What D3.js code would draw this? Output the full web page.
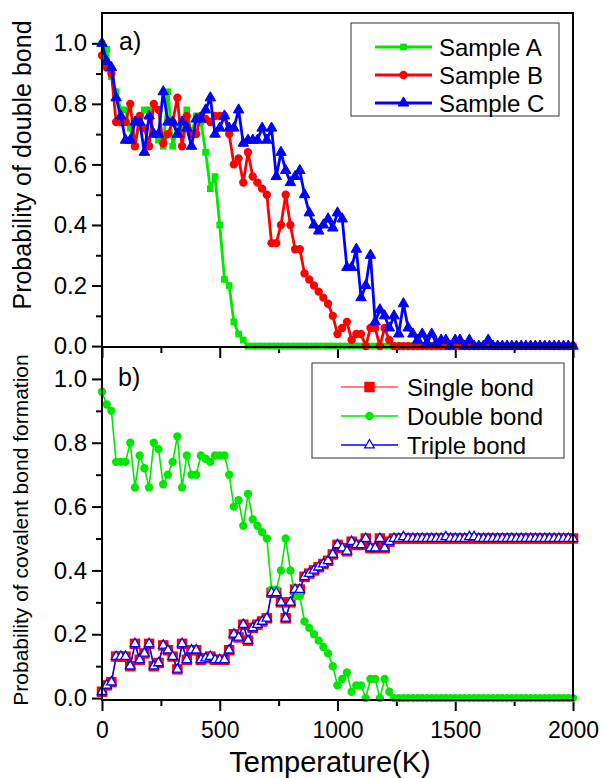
<!DOCTYPE html>
<html><head><meta charset="utf-8">
<script src="https://cdn.jsdelivr.net/npm/d3@7"></script>
<style>body{margin:0;background:#fff} text{font-family:Arial,"Liberation Sans",sans-serif;fill:#000}</style>
</head><body><svg id="c" width="603" height="778"></svg>
<script>
const temps = [0,20,40,60,80,100,120,140,160,180,200,220,240,260,280,300,320,340,360,380,
 400,420,440,460,480,500,520,540,560,580,600,620,640,660,680,700,720,740,760,780,
 800,820,840,860,880,900,920,940,960,980,1000,1020,1040,1060,1080,1100,1120,1140,1160,1180,
 1200,1220,1240,1260,1280,1300,1320,1340,1360,1380,1400,1420,1440,1460,1480,1500,1520,1540,1560,1580,
 1600,1620,1640,1660,1680,1700,1720,1740,1760,1780,1800,1820,1840,1860,1880,1900,1920,1940,1960,1980,2000];

// Panel a
const sampleA = [1.00,0.98,0.89,0.84,0.78,0.78,0.72,0.66,0.74,0.78,
 0.78,0.70,0.68,0.66,0.84,0.66,0.72,0.70,0.78,0.70,
 0.76,0.74,0.64,0.52,0.56,0.40,0.22,0.20,0.08,0.04,
 0.02,0,0,0,0,0,0,0,0,0,
 0,0,0,0,0,0,0,0,0,0,
 0,0,0,0,0,0,0,0,0,0,
 0,0,0,0,0,0,0,0,0,0,
 0,0,0,0,0,0,0,0,0,0,
 0,0,0,0,0,0,0,0,0,0,
 0,0,0,0,0,0,0,0,0,0,0];
const sampleB = [0.96,0.92,0.90,0.74,0.74,0.74,0.80,0.66,0.76,0.72,
 0.66,0.80,0.78,0.67,0.70,0.74,0.82,0.66,0.76,0.70,
 0.70,0.76,0.75,0.74,0.76,0.76,0.76,0.70,0.60,0.62,
 0.54,0.64,0.56,0.54,0.52,0.50,0.34,0.34,0.40,0.50,
 0.40,0.32,0.32,0.24,0.22,0.20,0.18,0.16,0.14,0.10,
 0.04,0.06,0.08,0.02,0.04,0.04,0.00,0.06,0.06,0.00,
 0.06,0.02,0,0,0,0,0,0,0,0,
 0,0,0,0,0,0,0,0,0,0,
 0,0,0,0,0,0,0,0,0,0,
 0,0,0,0,0,0,0,0,0,0,0];
const sampleC = [1.00,0.94,0.92,0.82,0.76,0.68,0.68,0.74,0.74,0.64,
 0.76,0.70,0.70,0.84,0.74,0.74,0.70,0.74,0.72,0.66,
 0.75,0.75,0.78,0.82,0.70,0.72,0.76,0.72,0.72,0.78,
 0.67,0.68,0.68,0.68,0.72,0.68,0.72,0.56,0.64,0.58,
 0.54,0.56,0.58,0.50,0.44,0.40,0.38,0.40,0.42,0.39,
 0.44,0.42,0.26,0.26,0.32,0.16,0.20,0.30,0.08,0.12,
 0.10,0.06,0.10,0.04,0.14,0.06,0.04,0.02,0.04,0.01,
 0.04,0.01,0.02,0.02,0.00,0.02,0.02,0.00,0.02,0.00,
 0.00,0.00,0.02,0.00,0.00,0.00,0.00,0.00,0.00,0.00,
 0,0,0,0,0,0,0,0,0,0,0];

// Panel b
const singleBond = [0.02,0.04,0.05,0.13,0.13,0.13,0.10,0.17,0.12,0.14,
 0.17,0.10,0.11,0.165,0.15,0.13,0.09,0.17,0.12,0.15,
 0.15,0.12,0.125,0.13,0.12,0.12,0.12,0.15,0.20,0.19,
 0.23,0.18,0.22,0.23,0.24,0.25,0.33,0.33,0.30,0.25,
 0.30,0.34,0.34,0.38,0.39,0.40,0.41,0.42,0.43,0.45,
 0.48,0.47,0.46,0.49,0.48,0.48,0.50,0.47,0.47,0.50,
 0.47,0.49,0.50,0.50,0.50,0.50,0.50,0.50,0.50,0.50,
 0.50,0.50,0.50,0.50,0.50,0.50,0.50,0.50,0.50,0.50,
 0.50,0.50,0.50,0.50,0.50,0.50,0.50,0.50,0.50,0.50,
 0.50,0.50,0.50,0.50,0.50,0.50,0.50,0.50,0.50,0.50,0.50];
const doubleBond = sampleB.slice();
const tripleBond = [0.02,0.04,0.05,0.13,0.13,0.13,0.10,0.17,0.12,0.14,
 0.17,0.10,0.11,0.165,0.15,0.13,0.09,0.17,0.12,0.15,
 0.15,0.12,0.125,0.13,0.12,0.12,0.12,0.15,0.20,0.19,
 0.23,0.18,0.22,0.23,0.24,0.25,0.33,0.33,0.30,0.25,
 0.30,0.34,0.34,0.38,0.39,0.40,0.41,0.42,0.43,0.45,
 0.48,0.47,0.46,0.49,0.48,0.48,0.50,0.47,0.47,0.50,
 0.47,0.49,0.50,0.50,0.505,0.50,0.50,0.50,0.50,0.50,
 0.50,0.50,0.50,0.505,0.50,0.50,0.50,0.50,0.505,0.505,
 0.50,0.50,0.50,0.50,0.50,0.50,0.50,0.50,0.50,0.50,
 0.50,0.50,0.50,0.50,0.50,0.50,0.50,0.50,0.50,0.50,0.50];

const yMajor = [0,0.2,0.4,0.6,0.8,1.0];
const yMinor = [0.1,0.3,0.5,0.7,0.9];
const xMajor = [0,500,1000,1500,2000];
const xMinor = [250,750,1250,1750];

const GREEN = "#00e800", RED = "#ff0000", BLUE = "#0000ff";

const svg = d3.select("#c");
const X0=102, X1=573, TOP=13, MID=347, BOT=700;
const x = d3.scaleLinear().domain([0,2000]).range([X0,X1]);
const yA = d3.scaleLinear().domain([-0.003,1.1]).range([MID,TOP]);
const yB = d3.scaleLinear().domain([-0.006,1.1]).range([BOT,MID]);

function styleAxis(g, fs){
  g.select(".domain").remove();
  g.selectAll(".tick line").attr("stroke","#000").attr("stroke-width",2);
  g.selectAll(".tick text").style("font-size",fs).attr("fill","#000");
}
function yAxis(scale){
  svg.append("g").attr("transform",`translate(${X0},0)`)
    .call(d3.axisLeft(scale).tickValues(yMajor).tickFormat(d3.format(".1f")).tickSize(10).tickPadding(5)).call(styleAxis,"24px");
  svg.append("g").attr("transform",`translate(${X0},0)`)
    .call(d3.axisLeft(scale).tickValues(yMinor).tickFormat("").tickSize(6)).call(styleAxis,"24px");
}
function xAxis(yPos, labels){
  svg.append("g").attr("transform",`translate(0,${yPos})`)
    .call(d3.axisBottom(x).tickValues(xMajor).tickFormat(labels? d3.format("d") : "").tickSize(11).tickPadding(11)).call(styleAxis,"23px");
  svg.append("g").attr("transform",`translate(0,${yPos})`)
    .call(d3.axisBottom(x).tickValues(xMinor).tickFormat("").tickSize(6)).call(styleAxis,"23px");
}

yAxis(yA); yAxis(yB);
xAxis(MID,false); xAxis(BOT,true);

function series(ys, yScale, color, lw, symType, symSize, fill, stroke, sw){
  const idx = d3.range(temps.length);
  svg.append("path").datum(idx)
    .attr("d", d3.line().x(i=>x(temps[i])).y(i=>yScale(ys[i])))
    .attr("fill","none").attr("stroke",color).attr("stroke-width",lw).attr("stroke-linejoin","round");
  const sym = d3.symbol().type(symType).size(symSize);
  svg.append("g").selectAll("path").data(idx).join("path")
    .attr("transform",i=>`translate(${x(temps[i])},${yScale(ys[i])})`)
    .attr("d",sym).attr("fill",fill).attr("stroke",stroke).attr("stroke-width",sw);
}

// panel a
series(sampleA, yA, GREEN, 2.8, d3.symbolSquare, 45, GREEN, "none", 0);
series(sampleB, yA, RED, 2.8, d3.symbolCircle, 55, RED, "none", 0);
series(sampleC, yA, BLUE, 2.8, d3.symbolTriangle, 48, BLUE, BLUE, 1);

// panel b
series(singleBond, yB, RED, 1.2, d3.symbolSquare, 110, RED, "none", 0);
series(doubleBond, yB, GREEN, 1.6, d3.symbolCircle, 55, GREEN, "none", 0);
series(tripleBond, yB, BLUE, 1.5, d3.symbolTriangle, 40, "#fff", BLUE, 1.3);

// frames
svg.append("rect").attr("x",X0).attr("y",TOP).attr("width",X1-X0).attr("height",MID-TOP)
  .attr("fill","none").attr("stroke","#000").attr("stroke-width",2);
svg.append("rect").attr("x",X0).attr("y",MID).attr("width",X1-X0).attr("height",BOT-MID)
  .attr("fill","none").attr("stroke","#000").attr("stroke-width",2);

// labels
svg.append("text").attr("transform","translate(31,165) rotate(-90)").attr("text-anchor","middle")
  .style("font-size","25px").text("Probability of double bond");
svg.append("text").attr("transform","translate(28,530) rotate(-90)").attr("text-anchor","middle")
  .style("font-size","21px").text("Probability of covalent bond formation");
svg.append("text").attr("x",330).attr("y",772).attr("text-anchor","middle")
  .style("font-size","29px").text("Temperature(K)");
svg.append("text").attr("x",119).attr("y",50).style("font-size","25px").text("a)");
svg.append("text").attr("x",118).attr("y",386).style("font-size","25px").text("b)");

// legends
function legend(bx,by,bw,bh, lx0,lx1,tx, rows){
  svg.append("rect").attr("x",bx).attr("y",by).attr("width",bw).attr("height",bh)
    .attr("fill","#fff").attr("stroke","#333").attr("stroke-width",1);
  rows.forEach(r=>{
    svg.append("line").attr("x1",lx0).attr("x2",lx1).attr("y1",r.y).attr("y2",r.y)
      .attr("stroke",r.color).attr("stroke-width",r.lw);
    svg.append("path").attr("transform",`translate(${(lx0+lx1)/2},${r.y})`)
      .attr("d",d3.symbol().type(r.sym).size(r.size)).attr("fill",r.fill).attr("stroke",r.stroke).attr("stroke-width",r.sw);
    svg.append("text").attr("x",tx).attr("y",r.y).attr("dy","0.36em").style("font-size","24px").text(r.label);
  });
}
legend(351,23,208,93, 375,432,439,[
  {y:47,label:"Sample A",color:GREEN,lw:2.8,sym:d3.symbolSquare,size:45,fill:GREEN,stroke:"none",sw:0},
  {y:75,label:"Sample B",color:RED,lw:2.8,sym:d3.symbolCircle,size:55,fill:RED,stroke:"none",sw:0},
  {y:103,label:"Sample C",color:BLUE,lw:2.8,sym:d3.symbolTriangle,size:48,fill:BLUE,stroke:BLUE,sw:1}
]);
legend(312,363,252,95, 341,398,407,[
  {y:387,label:"Single bond",color:RED,lw:1.2,sym:d3.symbolSquare,size:110,fill:RED,stroke:"none",sw:0},
  {y:416,label:"Double bond",color:GREEN,lw:1.6,sym:d3.symbolCircle,size:55,fill:GREEN,stroke:"none",sw:0},
  {y:445,label:"Triple bond",color:BLUE,lw:1.5,sym:d3.symbolTriangle,size:40,fill:"#fff",stroke:BLUE,sw:1.3}
]);
</script></body></html>
